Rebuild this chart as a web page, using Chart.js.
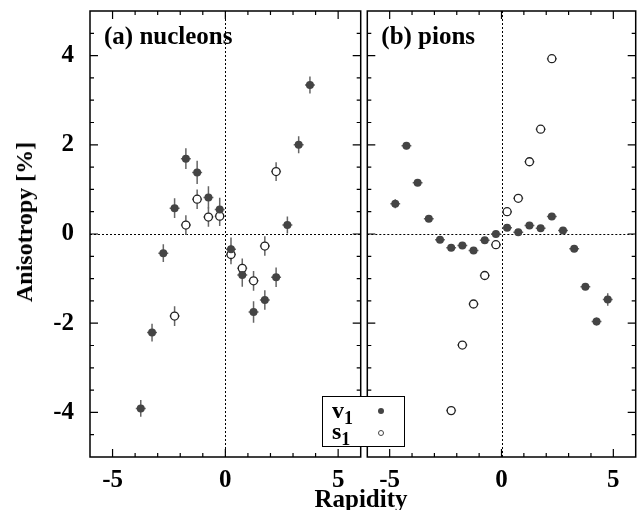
<!DOCTYPE html>
<html><head><meta charset="utf-8">
<script src="https://cdn.jsdelivr.net/npm/chart.js@4"></script>
<style>
body{margin:0;background:#fff;width:641px;height:510px;position:relative;overflow:hidden;font-family:"Liberation Serif",serif;}
canvas{position:absolute;top:0;}
#cl{left:0;} #cr{left:362px;}
.t{position:absolute;font-weight:bold;color:#000;white-space:nowrap;line-height:1;}
#ytitle{font-size:24px;left:24px;top:222px;transform:translate(-50%,-50%) rotate(-90deg);}
#xtitle{font-size:25px;left:361px;top:486px;transform:translateX(-50%);}
#legend{position:absolute;left:322px;top:396px;width:81px;height:49px;border:1.5px solid #000;background:#fff;}
.lt{position:absolute;font-weight:bold;font-size:24px;line-height:1;}
.lt sub{font-size:18px;vertical-align:-6px;}
.mk{position:absolute;width:6px;height:6px;border-radius:50%;box-sizing:border-box;}
</style></head><body>
<canvas id="cl" width="366" height="510"></canvas>
<canvas id="cr" width="279" height="510"></canvas>
<div class="t" id="ytitle">Anisotropy [%]</div>
<div class="t" id="xtitle">Rapidity</div>
<div id="legend">
  <div class="lt" style="left:9px;top:1px;">v<sub>1</sub></div>
  <div class="mk" style="left:55px;top:11px;background:#444;"></div>
  <div class="lt" style="left:9px;top:22px;">s<sub>1</sub></div>
  <div class="mk" style="left:55px;top:33px;background:#fff;border:1px solid #444;"></div>
</div>
<script>
// ---- data ----
const xTickLabels = [-5, 0, 5];
const yTickLabels = [-4, -2, 0, 2, 4];
const panelTitles = ['(a) nucleons', '(b) pions'];

const nucV1X = [-3.75,-3.25,-2.75,-2.25,-1.75,-1.25,-0.75,-0.25,0.25,0.75,1.25,1.75,2.25,2.75,3.25,3.75];
const nucV1Y = [-3.91,-2.21,-0.43,0.58,1.69,1.38,0.82,0.55,-0.34,-0.92,-1.75,-1.48,-0.97,0.20,2.00,3.34];
const nucV1Err = [0.19,0.20,0.20,0.22,0.23,0.26,0.25,0.26,0.26,0.26,0.24,0.22,0.22,0.19,0.19,0.19];
const nucS1X = [-2.25,-1.75,-1.25,-0.75,-0.25,0.25,0.75,1.25,1.75,2.25];
const nucS1Y = [-1.84,0.20,0.78,0.38,0.40,-0.46,-0.77,-1.05,-0.27,1.40];
const nucS1Err = [0.22,0.22,0.22,0.22,0.22,0.22,0.22,0.22,0.22,0.21];

const pionV1X = [-4.75,-4.25,-3.75,-3.25,-2.75,-2.25,-1.75,-1.25,-0.75,-0.25,0.25,0.75,1.25,1.75,2.25,2.75,3.25,3.75,4.25,4.75];
const pionV1Y = [0.68,1.98,1.15,0.34,-0.13,-0.31,-0.26,-0.37,-0.14,0.00,0.14,0.04,0.19,0.13,0.39,0.08,-0.33,-1.18,-1.96,-1.47];
const pionV1Err = [0.10,0.08,0.06,0.05,0.04,0.04,0.04,0.04,0.04,0.04,0.04,0.04,0.04,0.04,0.05,0.05,0.05,0.07,0.09,0.14];
const pionS1X = [-2.25,-1.75,-1.25,-0.75,-0.25,0.25,0.75,1.25,1.75,2.25];
const pionS1Y = [-3.96,-2.49,-1.57,-0.93,-0.24,0.50,0.80,1.62,2.35,3.93];
const pionS1Err = [0.03,0.03,0.03,0.03,0.03,0.03,0.03,0.03,0.03,0.03];
const xErr = 0.22;

// ---- plugins ----
const errorBars = {
  id: 'errorBars',
  beforeDatasetsDraw(chart) {
    const {ctx, chartArea: a, scales: {x, y}} = chart;
    ctx.save();
    ctx.strokeStyle = '#000'; ctx.lineWidth = 1; ctx.setLineDash([2, 2]);
    const x0 = Math.round(x.getPixelForValue(0)) + 0.5, y0 = Math.round(y.getPixelForValue(0)) + 0.5;
    ctx.beginPath(); ctx.moveTo(a.left, y0); ctx.lineTo(a.right, y0); ctx.stroke();
    ctx.beginPath(); ctx.moveTo(x0, a.top); ctx.lineTo(x0, a.bottom); ctx.stroke();
    ctx.setLineDash([]);
    ctx.strokeStyle = '#666'; ctx.lineWidth = 1.5;
    chart.data.datasets.forEach(ds => {
      ds.data.forEach((p, i) => {
        const px = x.getPixelForValue(p.x), py = y.getPixelForValue(p.y);
        const e = ds.errY[i];
        ctx.beginPath();
        ctx.moveTo(px, y.getPixelForValue(p.y - e)); ctx.lineTo(px, y.getPixelForValue(p.y + e));
        ctx.moveTo(x.getPixelForValue(p.x - xErr), py); ctx.lineTo(x.getPixelForValue(p.x + xErr), py);
        ctx.stroke();
      });
    });
    ctx.restore();
  }
};
const frame = {
  id: 'frame',
  afterDraw(chart, args, opts) {
    const {ctx, chartArea: a, scales: {x, y}} = chart;
    ctx.save();
    ctx.strokeStyle = '#000'; ctx.lineWidth = 1.5;
    ctx.strokeRect(a.left, a.top, a.right - a.left, a.bottom - a.top);
    ctx.lineWidth = 1.2;
    ctx.beginPath();
    for (let v = -5; v <= 5; v++) {
      const px = x.getPixelForValue(v), L = (v % 5 === 0) ? 8 : 4;
      ctx.moveTo(px, a.bottom); ctx.lineTo(px, a.bottom - L);
      ctx.moveTo(px, a.top); ctx.lineTo(px, a.top + L);
    }
    for (let v = -4.5; v <= 4.5; v += 0.5) {
      const py = y.getPixelForValue(v), L = (v % 2 === 0) ? 8 : 4;
      ctx.moveTo(a.left, py); ctx.lineTo(a.left + L, py);
      ctx.moveTo(a.right, py); ctx.lineTo(a.right - L, py);
    }
    ctx.stroke();
    ctx.fillStyle = '#000';
    ctx.font = 'bold 25px "Liberation Serif"';
    ctx.textBaseline = 'alphabetic';
    ctx.fillText(opts.label, a.left + 14, a.top + 33);
    ctx.restore();
  }
};

const tickFont = {family: '"Liberation Serif"', size: 25, weight: 'bold'};

function makePanel(id, label, v1x, v1y, v1e, s1x, s1y, s1e, isLeft) {
  return new Chart(document.getElementById(id), {
    type: 'scatter',
    data: {datasets: [
      {label: 'v1', data: v1x.map((xv, i) => ({x: xv, y: v1y[i]})), errY: v1e,
       pointRadius: 4, backgroundColor: '#444', borderColor: '#444', borderWidth: 0},
      {label: 's1', data: s1x.map((xv, i) => ({x: xv, y: s1y[i]})), errY: s1e,
       pointRadius: 4, backgroundColor: '#fff', borderColor: '#222', borderWidth: 1.3}
    ]},
    options: {
      responsive: false, animation: false,
      layout: {padding: {top: 11, bottom: 0, left: isLeft ? 0 : 2, right: isLeft ? 2 : 3.5}},
      plugins: {legend: {display: false}, tooltip: {enabled: false}, frame: {label}},
      scales: {
        x: {type: 'linear', min: -6, max: 6,
            afterBuildTicks: s => { s.ticks = xTickLabels.map(v => ({value: v})); },
            afterFit: s => { s.height = 53; s.paddingLeft = 0; s.paddingRight = 0; },
            grid: {display: false, drawTicks: false}, border: {display: false},
            ticks: {font: tickFont, color: '#000', padding: 9, maxRotation: 0}},
        y: {type: 'linear', min: -5, max: 5, display: isLeft,
            afterBuildTicks: s => { s.ticks = yTickLabels.map(v => ({value: v})); },
            afterFit: s => { s.width = isLeft ? 90 : 0; s.paddingTop = 0; s.paddingBottom = 0; },
            grid: {display: false, drawTicks: false}, border: {display: false},
            ticks: {font: tickFont, color: '#000', padding: 16}}
      }
    },
    plugins: [errorBars, frame]
  });
}
makePanel('cl', panelTitles[0], nucV1X, nucV1Y, nucV1Err, nucS1X, nucS1Y, nucS1Err, true);
makePanel('cr', panelTitles[1], pionV1X, pionV1Y, pionV1Err, pionS1X, pionS1Y, pionS1Err, false);
</script>
</body></html>
